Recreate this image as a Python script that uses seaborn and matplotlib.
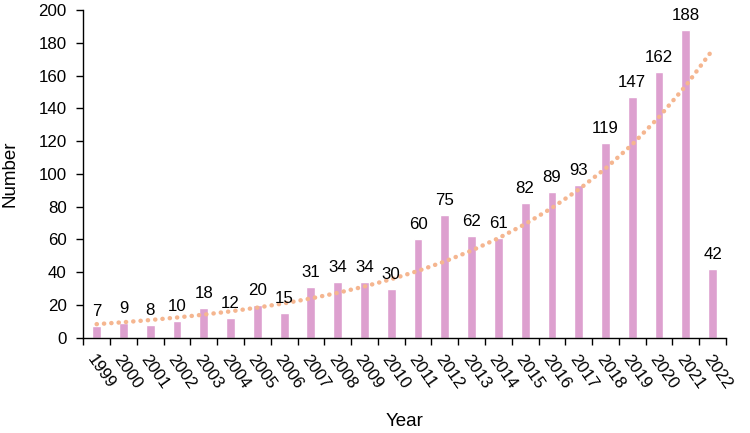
import numpy as np
import pandas as pd
import matplotlib
matplotlib.use("Agg")
import matplotlib.pyplot as plt
import seaborn as sns

years = [str(y) for y in range(1999, 2023)]
counts = [7, 9, 8, 10, 18, 12, 20, 15, 31, 34, 34, 30, 60, 75, 62, 61,
          82, 89, 93, 119, 147, 162, 188, 42]

bar_color = "#DDA0CF"
trend_color = "#F5B690"

sns.set_theme(style="white", rc={"text.color": "black", "axes.labelcolor": "black",
                                 "xtick.color": "black", "ytick.color": "black"})
plt.rcParams['font.family'] = ['Liberation Sans', 'DejaVu Sans']

df = pd.DataFrame({"Year": years, "Number": counts})

fig, ax = plt.subplots(figsize=(7.5, 4.33), dpi=100)
sns.barplot(data=df, x="Year", y="Number", color=bar_color, width=0.33,
            saturation=1, ax=ax)
ax.bar_label(ax.containers[0], fontsize=12.2, padding=5, color="black")

# exponential trendline (least squares on log values, like Excel)
xi = np.arange(len(counts))
b, a = np.polyfit(xi, np.log(counts), 1)
trend = np.exp(a + b * xi)
ax.plot(xi, trend, color=trend_color, lw=3.2, linestyle=(0, (0.05, 1.6)),
        dash_capstyle="round", zorder=1)

ax.set_xlim(-0.5, len(counts) - 0.5)
ax.set_ylim(0, 200)
ax.set_yticks(range(0, 201, 20))
ax.set_xticks(xi)
ax.set_xticklabels(years, rotation=-55, ha="left", va="top",
                   rotation_mode="anchor", fontsize=12.2)
ax.set_xticks(np.arange(-0.5, len(counts)), minor=True)
ax.tick_params(axis="x", which="major", length=0, pad=10)
ax.tick_params(axis="x", which="minor", length=5, width=1, color="black",
               direction="out", bottom=True)
ax.tick_params(axis="y", length=5, width=1, color="black", direction="out",
               left=True, labelsize=12.2, pad=7)
for s in ["top", "right"]:
    ax.spines[s].set_visible(False)
for s in ["left", "bottom"]:
    ax.spines[s].set_color("black")
    ax.spines[s].set_linewidth(1)

ax.set_xlabel("Year", fontsize=13.5, labelpad=16)
ax.set_ylabel("Number", fontsize=13.5, labelpad=14)

fig.subplots_adjust(left=0.111, right=0.968, top=0.977, bottom=0.22)
fig.savefig("out.png", dpi=100)
